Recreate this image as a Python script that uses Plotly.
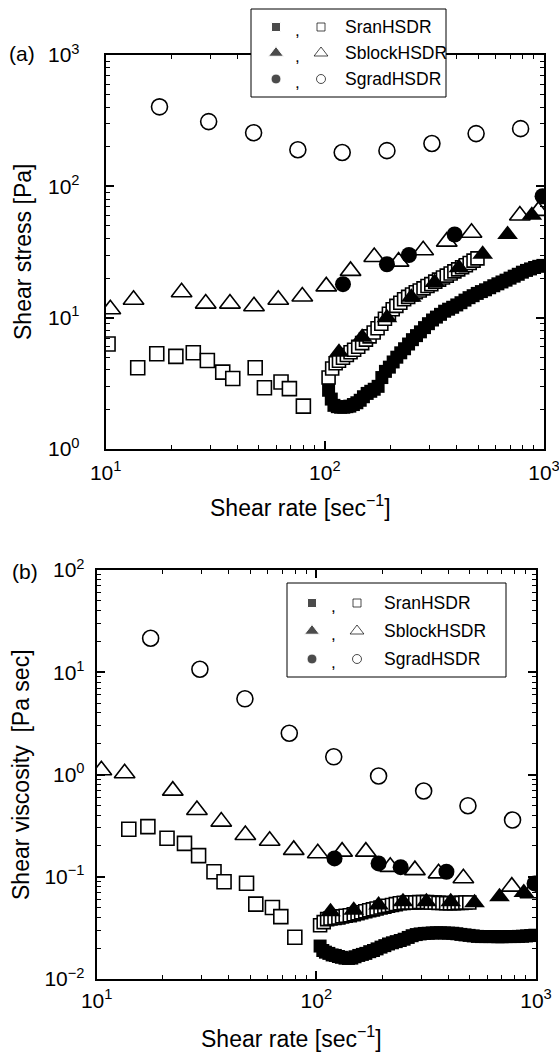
import plotly.graph_objects as go

W, H = 559, 1056
FONT = "Liberation Sans, Arial, sans-serif"

# ---------------- data ----------------
# shear rate [1/s]; panel (a) shear stress [Pa]; panel (b) shear viscosity [Pa s]

# SranHSDR, open squares, low-rate part
ran_open_lo_rate = [10.25, 14.0, 17.1, 20.9, 25.1, 29.1, 34.2, 38.0, 48.1, 53.0, 63.1, 68.9, 79.8]
ran_open_lo_stress = [6.3, 4.16, 5.31, 5.07, 5.4, 4.72, 3.85, 3.44, 4.16, 2.93, 3.24, 2.88, 2.12]
ran_open_lo_visc = [None, 0.291, 0.309, 0.238, 0.212, 0.161, 0.112, 0.0895, 0.0863, 0.054, 0.050, 0.0407, 0.0256]

# SranHSDR, open squares, high-rate part
ran_open_hi_rate = [104, 108, 112, 116, 121, 126, 131, 136, 142, 148, 154, 160, 167, 174, 181, 188,
                    196, 204, 212, 221, 230, 240, 250, 260, 271, 282, 294, 306, 319, 332, 346, 360,
                    375, 390, 406, 423, 440, 458, 477, 497]
ran_open_hi_stress = [3.5, 4.1, 4.5, 4.7, 4.95, 5.2, 5.45, 5.7, 6.0, 6.4, 6.8, 7.2, 7.7, 8.3, 9.0, 9.8,
                      10.7, 11.6, 12.3, 13.0, 13.8, 14.4, 15.0, 15.6, 16.1, 16.7, 17.4, 18.0, 18.8, 19.5,
                      20.2, 20.9, 21.7, 22.5, 23.3, 24.2, 25.1, 26.1, 27.2, 28.3]
ran_open_hi_visc = [0.0335, 0.036, 0.0385, 0.039, 0.0395, 0.04, 0.041, 0.0415, 0.042, 0.043, 0.044, 0.045,
                    0.046, 0.047, 0.048, 0.049, 0.05, 0.051, 0.052, 0.053, 0.054, 0.055, 0.0555, 0.056,
                    0.056, 0.056, 0.0565, 0.0565, 0.0565, 0.056, 0.056, 0.0555, 0.0555, 0.055, 0.055,
                    0.055, 0.0555, 0.0555, 0.056, 0.056]

# SranHSDR, filled squares
ran_fill_rate = [104, 107, 110, 114, 118, 122, 126, 130, 135, 140, 145, 150, 156, 162, 168, 175, 182,
                 189, 197, 205, 213, 222, 231, 241, 251, 262, 273, 285, 297, 310, 323, 337, 352, 367,
                 383, 400, 418, 436, 455, 475, 496, 518, 541, 565, 590, 616, 643, 671, 700, 731, 763,
                 797, 832, 868, 906, 946, 988]
ran_fill_stress = [2.8, 2.4, 2.15, 2.1, 2.08, 2.08, 2.1, 2.12, 2.18, 2.25, 2.35, 2.5, 2.65, 2.75, 2.85,
                   3.0, 3.5, 3.9, 4.2, 4.6, 5.0, 5.4, 5.8, 6.3, 6.8, 7.3, 7.8, 8.4, 9.0, 9.6, 10.1, 10.6,
                   11.2, 11.6, 12.0, 12.5, 13.0, 13.6, 14.2, 14.7, 15.3, 15.8, 16.3, 16.9, 17.5, 18.1,
                   18.7, 19.3, 20.0, 20.7, 21.4, 22.2, 22.9, 23.5, 24.1, 24.6, 25.0]
ran_fill_visc = [0.021, 0.019, 0.0183, 0.0178, 0.0172, 0.017, 0.0166, 0.0163, 0.016, 0.0159, 0.016,
                 0.0165, 0.017, 0.0174, 0.0178, 0.0185, 0.019, 0.0197, 0.0205, 0.0212, 0.022, 0.0226,
                 0.0232, 0.0238, 0.0245, 0.0255, 0.0265, 0.0272, 0.0276, 0.0279, 0.028, 0.0282, 0.0283,
                 0.0283, 0.0282, 0.0281, 0.028, 0.0277, 0.0273, 0.027, 0.0267, 0.0264, 0.0261, 0.026,
                 0.026, 0.026, 0.026, 0.0259, 0.0259, 0.026, 0.026, 0.026, 0.0261, 0.0262, 0.0264,
                 0.0266, 0.0268]

# SblockHSDR, open triangles
block_open_rate = [10.5, 13.4, 22.2, 28.6, 36.9, 47.5, 61.3, 78.9, 101.5, 131, 168, 217, 281, 360, 467, 776, 943]
block_open_stress = [11.6, 13.7, 15.6, 12.8, 12.8, 12.2, 13.7, 14.5, 17.3, 22.7, 29.0, 26.7, 32.6, 37.9, 44.3, 60.0, 65.0]
block_open_visc = [1.1, 1.03, 0.695, 0.45, 0.346, 0.256, 0.225, 0.183, 0.17, 0.176, 0.176, 0.125, 0.116,
                   0.108, 0.0966, 0.08, 0.069]

# SblockHSDR, filled triangles
block_fill_rate = [116, 148, 192, 248, 317, 409, 525, 682, 880]
block_fill_stress = [5.46, 7.1, 10.0, 14.3, 18.5, 24.0, 30.4, 43.0, 60.3]
block_fill_visc = [0.0455, 0.047, 0.053, 0.057, 0.057, 0.057, 0.0557, 0.0638, 0.070]

# SgradHSDR, open circles
grad_open_rate = [17.6, 29.5, 47.3, 75.3, 120, 192, 308, 490, 782]
grad_open_stress = [403, 311, 256, 190, 181, 187, 212, 252, 275]
grad_open_visc = [21.5, 10.7, 5.5, 2.53, 1.49, 0.967, 0.69, 0.495, 0.359]

# SgradHSDR, filled circles
grad_fill_rate = [121, 192, 242, 391, 985]
grad_fill_stress = [18.0, 25.5, 30.0, 43.0, 84.0]
grad_fill_visc = [0.151, 0.135, 0.124, 0.112, 0.086]

legend_labels = ["SranHSDR", "SblockHSDR", "SgradHSDR"]
major_vals = [1e-2, 1e-1, 1, 10, 100, 1000]
major_text = ["10<sup>\u22122</sup>", "10<sup>\u22121</sup>", "10<sup>0</sup>",
              "10<sup>1</sup>", "10<sup>2</sup>", "10<sup>3</sup>"]
minor_vals = [m * 10.0 ** e for e in range(-2, 3) for m in range(2, 10)]

# ---------------- layout helpers ----------------
def fx(px):
    return px / W

def fy(py):
    return 1 - py / H

fig = go.Figure()

def mk(symbol, size, filled):
    if filled:
        return dict(symbol=symbol, size=size, color="black", line=dict(width=0))
    return dict(symbol=symbol, size=size, color="white", line=dict(color="black", width=1.6))

series = [
    (ran_open_lo_rate, ran_open_lo_stress, ran_open_lo_visc, "square", 14, False),
    (ran_open_hi_rate, ran_open_hi_stress, ran_open_hi_visc, "square", 13, False),
    (block_open_rate, block_open_stress, block_open_visc, "triangle-up", 18, False),
    (grad_open_rate, grad_open_stress, grad_open_visc, "circle", 16, False),
    (ran_fill_rate, ran_fill_stress, ran_fill_visc, "square", 13, True),
    (block_fill_rate, block_fill_stress, block_fill_visc, "triangle-up", 18, True),
    (grad_fill_rate, grad_fill_stress, grad_fill_visc, "circle", 16, True),
]
for xs, ya, yb, sym, sz, filled in series:
    m = mk(sym, sz, filled)
    fig.add_trace(go.Scatter(x=xs, y=ya, mode="markers", marker=m, xaxis="x", yaxis="y",
                             showlegend=False, cliponaxis=True))
    fig.add_trace(go.Scatter(x=xs, y=yb, mode="markers", marker=m, xaxis="x2", yaxis="y2",
                             showlegend=False, cliponaxis=True))

# legend glyphs drawn on a pixel-space overlay axis
leg_a = dict(left=251, right=446, top=9, bottom=97, rows=[27, 53, 79], fill=276, comma=297, open=321, text=343)
leg_b = dict(left=287, right=506, top=583, bottom=677, rows=[603, 631, 659], fill=312, comma=333, open=357, text=382)
sym_fill = ["square", "triangle-up", "circle"]
sym_open = ["square-open", "triangle-up-open", "circle-open"]
sz_fill = [9, 13, 10]
sz_open = [8, 12, 9]
for lg in (leg_a, leg_b):
    fig.add_shape(type="rect", xref="x3", yref="y3", x0=lg["left"], x1=lg["right"],
                  y0=lg["top"], y1=lg["bottom"], fillcolor="white",
                  line=dict(color="black", width=1), layer="below")
    fig.add_trace(go.Scatter(x=[lg["fill"]] * 3, y=lg["rows"], mode="markers", xaxis="x3", yaxis="y3",
                             marker=dict(symbol=sym_fill, size=sz_fill, color="black"),
                             showlegend=False, hoverinfo="skip"))
    fig.add_trace(go.Scatter(x=[lg["open"]] * 3, y=lg["rows"], mode="markers", xaxis="x3", yaxis="y3",
                             marker=dict(symbol=sym_open, size=sz_open, color="black", line=dict(width=1)),
                             showlegend=False, hoverinfo="skip"))
    for r, lab in zip(lg["rows"], legend_labels):
        fig.add_annotation(x=lg["comma"], y=r + 3, xref="x3", yref="y3", text=",", showarrow=False,
                           font=dict(family=FONT, size=17, color="black"))
        fig.add_annotation(x=lg["text"], y=r, xref="x3", yref="y3", text=lab, showarrow=False,
                           xanchor="left", yanchor="middle",
                           font=dict(family=FONT, size=17.5, color="black"))


def log_axis(domain, rng, anchor, standoff):
    return dict(domain=domain, type="log", range=rng, anchor=anchor, automargin=False,
                showline=True, linewidth=2, linecolor="black", mirror="ticks",
                ticks="inside", ticklen=8, tickwidth=1.5, tickcolor="black",
                tickmode="array", tickvals=major_vals, ticktext=major_text,
                ticklabelstandoff=standoff, ticklabeloverflow="allow",
                showgrid=False, zeroline=False,
                tickfont=dict(family=FONT, size=21, color="black"),
                minor=dict(ticks="inside", ticklen=4, tickwidth=1, tickcolor="black",
                           tickmode="array", tickvals=minor_vals, showgrid=False))

texts = [
    ("(a)", 22, 53, 0, 21),
    ("(b)", 25, 571, 0, 21),
    ("Shear stress [Pa]", 23, 252, -90, 23),
    ("Shear viscosity\u00a0 [Pa sec]", 21, 775, -90, 23),
    ("Shear rate [sec<sup>\u22121</sup>]", 300, 506, 0, 23),
    ("Shear rate [sec<sup>\u22121</sup>]", 291, 1037, 0, 23),
]
for t, x, y, ang, fs in texts:
    fig.add_annotation(x=x, y=y, xref="x3", yref="y3", text=t, showarrow=False, textangle=ang,
                       xanchor="center", yanchor="middle",
                       font=dict(family=FONT, size=fs, color="black"))

fig.update_layout(
    template="none",
    width=W, height=H, margin=dict(l=0, r=0, t=0, b=0, pad=0, autoexpand=False),
    paper_bgcolor="white", plot_bgcolor="rgba(0,0,0,0)", showlegend=False,
    xaxis=log_axis([fx(105.7), fx(544)], [1, 3], "y", 4),
    yaxis=log_axis([fy(449), fy(55)], [0, 3], "x", 20),
    xaxis2=log_axis([fx(96.7), fx(536)], [1, 3], "y2", 2),
    yaxis2=log_axis([fy(979), fy(570)], [-2, 2], "x2", 6),
    xaxis3=dict(domain=[0, 1], range=[0, W], anchor="y3", visible=False, fixedrange=True, automargin=False),
    yaxis3=dict(domain=[0, 1], range=[H, 0], anchor="x3", visible=False, fixedrange=True, automargin=False),
)

fig.write_html("out.html", config={"displayModeBar": False},
               post_script="document.body.style.margin='0px';")
